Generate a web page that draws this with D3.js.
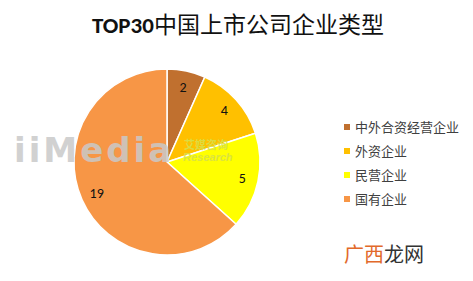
<!DOCTYPE html>
<html>
<head>
<meta charset="utf-8">
<script src="https://cdn.jsdelivr.net/npm/d3@7"></script>
<style>
    body { margin: 0; background: #fff; }
    text { font-family: "Noto Sans CJK SC", "Liberation Sans", sans-serif; }
</style>
</head>
<body>
<div id="chart"></div>
<script>
// Pie chart of company types among the TOP30 listed companies.

const WIDTH = 473;
const HEIGHT = 281;
const CENTER_X = 167;
const CENTER_Y = 162;
const RADIUS = 93;
const LABEL_RADIUS = 77;

const categories = ["中外合资经营企业", "外资企业", "民营企业", "国有企业"];
const counts = [2, 4, 5, 19];
const colors = ["#C0702F", "#FFC000", "#FFFF00", "#F79646"];

const svg = d3.select("#chart").append("svg")
    .attr("width", WIDTH)
    .attr("height", HEIGHT);

svg.append("text")
    .attr("x", 238)
    .attr("y", 33)
    .attr("text-anchor", "middle")
    .attr("font-size", 23)
    .attr("fill", "#111")
    .call(t => {
        t.append("tspan").attr("font-weight", "bold")
            .style("font-family", "Carlito, 'Liberation Sans', sans-serif").text("TOP30");
        t.append("tspan").attr("font-weight", "normal").text("中国上市公司企业类型");
    });

const color = d3.scaleOrdinal().domain(categories).range(colors);

const pie = d3.pie().sort(null).value(d => d.value);
const arcs = pie(categories.map((c, i) => ({ name: c, value: counts[i] })));

const arc = d3.arc().innerRadius(0).outerRadius(RADIUS);
const labelArc = d3.arc().innerRadius(LABEL_RADIUS).outerRadius(LABEL_RADIUS);

const pieGroup = svg.append("g")
    .attr("transform", `translate(${CENTER_X},${CENTER_Y})`);

pieGroup.selectAll("path")
    .data(arcs)
    .join("path")
    .attr("d", arc)
    .attr("fill", d => color(d.data.name))
    .attr("stroke", "#fff")
    .attr("stroke-width", 1.5);

pieGroup.selectAll("text")
    .data(arcs)
    .join("text")
    .attr("transform", d => `translate(${labelArc.centroid(d)})`)
    .attr("text-anchor", "middle")
    .attr("dy", "0.35em")
    .attr("font-size", 14)
    .attr("fill", "#111")
    .style("font-family", "Carlito, 'Liberation Sans', sans-serif")
    .text(d => d.data.value);

// watermark laid over the pie
const mark = svg.append("g").attr("opacity", 0.85);
mark.append("text")
    .attr("x", 14)
    .attr("y", 162)
    .attr("font-size", 34)
    .attr("font-weight", "bold")
    .attr("letter-spacing", 3)
    .attr("fill", "#c9c9c9")
    .style("font-family", "'DejaVu Sans', sans-serif")
    .text("iiMedia");
mark.append("text")
    .attr("x", 184)
    .attr("y", 149)
    .attr("font-size", 11)
    .attr("font-weight", "bold")
    .attr("fill", "#d6e04a")
    .text("艾媒咨询");
mark.append("text")
    .attr("x", 183)
    .attr("y", 161)
    .attr("font-size", 11)
    .attr("font-style", "italic")
    .attr("font-weight", "bold")
    .attr("fill", "#d6e04a")
    .style("font-family", "'Liberation Sans', sans-serif")
    .text("Research");

const legend = svg.append("g")
    .attr("transform", "translate(344,127)");

const legendRow = legend.selectAll("g")
    .data(categories)
    .join("g")
    .attr("transform", (d, i) => `translate(0,${i * 24})`);

legendRow.append("rect")
    .attr("x", 0)
    .attr("y", -3)
    .attr("width", 6)
    .attr("height", 6)
    .attr("fill", d => color(d));

legendRow.append("text")
    .attr("x", 11)
    .attr("dy", "0.36em")
    .attr("font-size", 13)
    .attr("fill", "#404040")
    .text(d => d);

svg.append("text")
    .attr("x", 344)
    .attr("y", 262)
    .attr("font-size", 20)
    .call(t => {
        t.append("tspan").attr("fill", "#E2692A").text("广西");
        t.append("tspan").attr("fill", "#333").text("龙网");
    });
</script>
</body>
</html>
